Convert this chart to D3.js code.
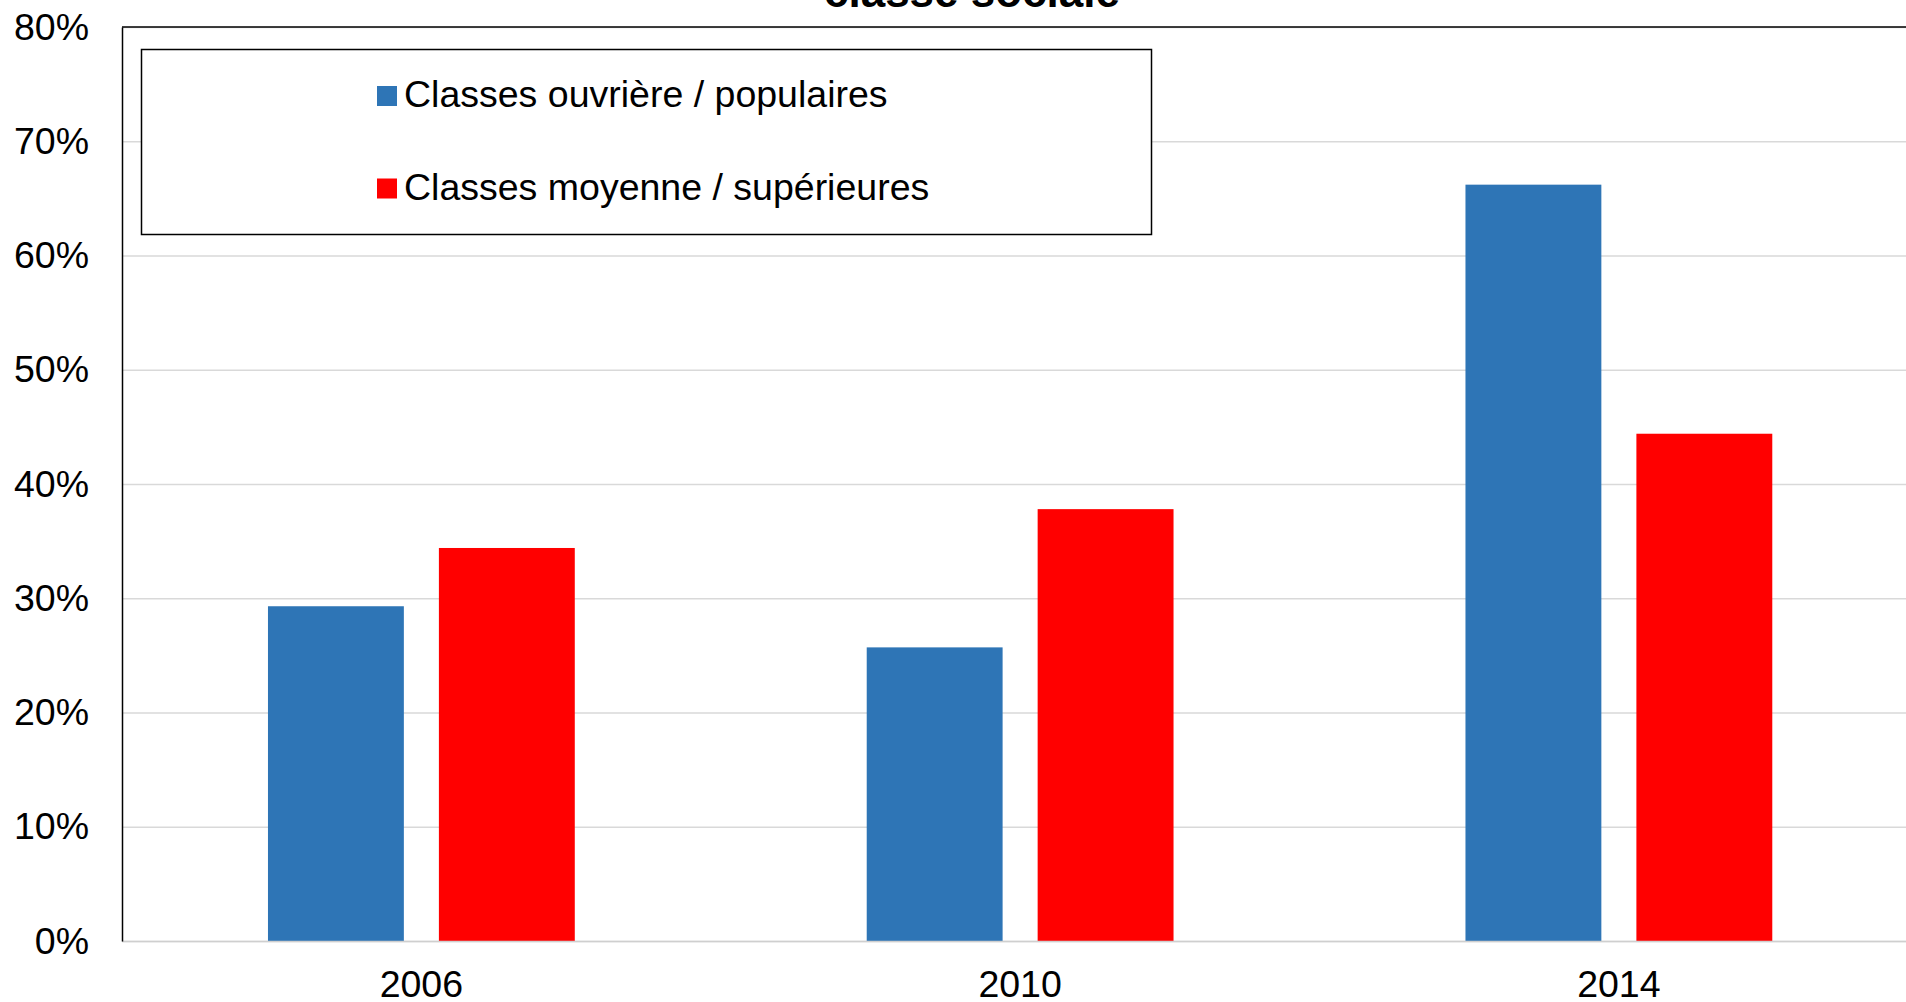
<!DOCTYPE html>
<html>

<head>
    <meta charset="utf-8">
    <script src="https://d3js.org/d3.v7.min.js"></script>
    <title>Classe sociale</title>
    <style>
        body {
            margin: 0;
            background: #fff;
        }

        text {
            font-family: "Liberation Sans", Arial, sans-serif;
        }
    </style>
</head>

<body>
    <div id="chart"></div>
</body>

<script>
    // data
    const years = ["2006", "2010", "2014"];
    const seriesNames = ["Classes ouvrière / populaires", "Classes moyenne / supérieures"];
    const ouvriere = [0.293, 0.257, 0.662];
    const moyenne = [0.344, 0.378, 0.444];
    const yTicks = [0, 0.1, 0.2, 0.3, 0.4, 0.5, 0.6, 0.7, 0.8];
    const colors = ["#2E75B6", "#FF0000"];

    const width = 1906, height = 1002;
    const fontSize = 37.5;

    // plot area (right side runs past the window edge, like the reference)
    const margin = { top: 27, left: 122 };
    const plotBottom = 941;
    const bandStep = 598.75;

    const svg = d3.select("#chart").append("svg")
        .attr("width", width)
        .attr("height", height);

    const x0 = d3.scaleBand()
        .domain(years)
        .range([margin.left, margin.left + bandStep * years.length]);

    const x1 = d3.scaleBand()
        .domain(seriesNames)
        .range([0, x0.bandwidth()])
        .paddingInner(0.205)
        .paddingOuter(0.854);

    const y = d3.scaleLinear().domain([0, 0.8]).range([plotBottom, margin.top]);

    // gridlines
    const grid = svg.append("g")
        .attr("transform", "translate(" + margin.left + ",0)")
        .call(d3.axisLeft(y).tickValues(yTicks).tickSize(-(x0.range()[1] - margin.left)).tickFormat(""));
    grid.select(".domain").remove();
    grid.selectAll("line").attr("stroke", "#d9d9d9").attr("stroke-width", 1.5);

    // bars
    const rows = years.map((yr, i) => ({ year: yr, values: [ouvriere[i], moyenne[i]] }));

    svg.append("g").selectAll("g")
        .data(rows)
        .enter()
        .append("g")
        .attr("transform", d => "translate(" + x0(d.year) + ",0)")
        .selectAll("rect")
        .data(d => d.values.map((v, j) => ({ name: seriesNames[j], value: v, color: colors[j] })))
        .enter()
        .append("rect")
        .attr("x", d => x1(d.name))
        .attr("width", x1.bandwidth())
        .attr("y", d => y(d.value))
        .attr("height", d => plotBottom - y(d.value))
        .attr("fill", d => d.color);

    // x axis
    const xAxis = svg.append("g")
        .attr("transform", "translate(0," + plotBottom + ")")
        .call(d3.axisBottom(x0).tickSize(0).tickSizeOuter(0).tickPadding(29));
    xAxis.select(".domain").attr("stroke", "#cfcfcf").attr("stroke-width", 1.5);
    xAxis.selectAll("text").attr("font-size", fontSize).attr("fill", "#000")
        .style("font-family", "'Liberation Sans', Arial, sans-serif");

    // y axis
    const yAxis = svg.append("g")
        .attr("transform", "translate(" + margin.left + ",0)")
        .call(d3.axisLeft(y).tickValues(yTicks).tickSize(0).tickSizeOuter(0).tickPadding(33).tickFormat(d3.format(".0%")));
    yAxis.select(".domain").attr("stroke", "#000").attr("stroke-width", 1.5);
    yAxis.selectAll("text").attr("font-size", fontSize).attr("fill", "#000")
        .style("font-family", "'Liberation Sans', Arial, sans-serif");

    // top border of plot area
    svg.append("line")
        .attr("x1", margin.left).attr("x2", width)
        .attr("y1", y(0.8)).attr("y2", y(0.8))
        .attr("stroke", "#000").attr("stroke-width", 1.5);

    // title (only the bottom line peeks into the picture)
    svg.append("text")
        .attr("x", 972)
        .attr("y", 7)
        .attr("text-anchor", "middle")
        .attr("font-size", 44)
        .attr("font-weight", "bold")
        .text("classe sociale");

    // legend
    const legend = svg.append("g");
    legend.append("rect")
        .attr("x", 141.5).attr("y", 49.5)
        .attr("width", 1010).attr("height", 185)
        .attr("fill", "#fff")
        .attr("stroke", "#000").attr("stroke-width", 1.5);

    const legendRows = [107, 199.5];
    seriesNames.forEach((name, i) => {
        legend.append("rect")
            .attr("x", 377).attr("y", legendRows[i] - 21)
            .attr("width", 20).attr("height", 20)
            .attr("fill", colors[i]);
        legend.append("text")
            .attr("x", 404).attr("y", legendRows[i])
            .attr("font-size", fontSize)
            .text(name);
    });
</script>

</html>
